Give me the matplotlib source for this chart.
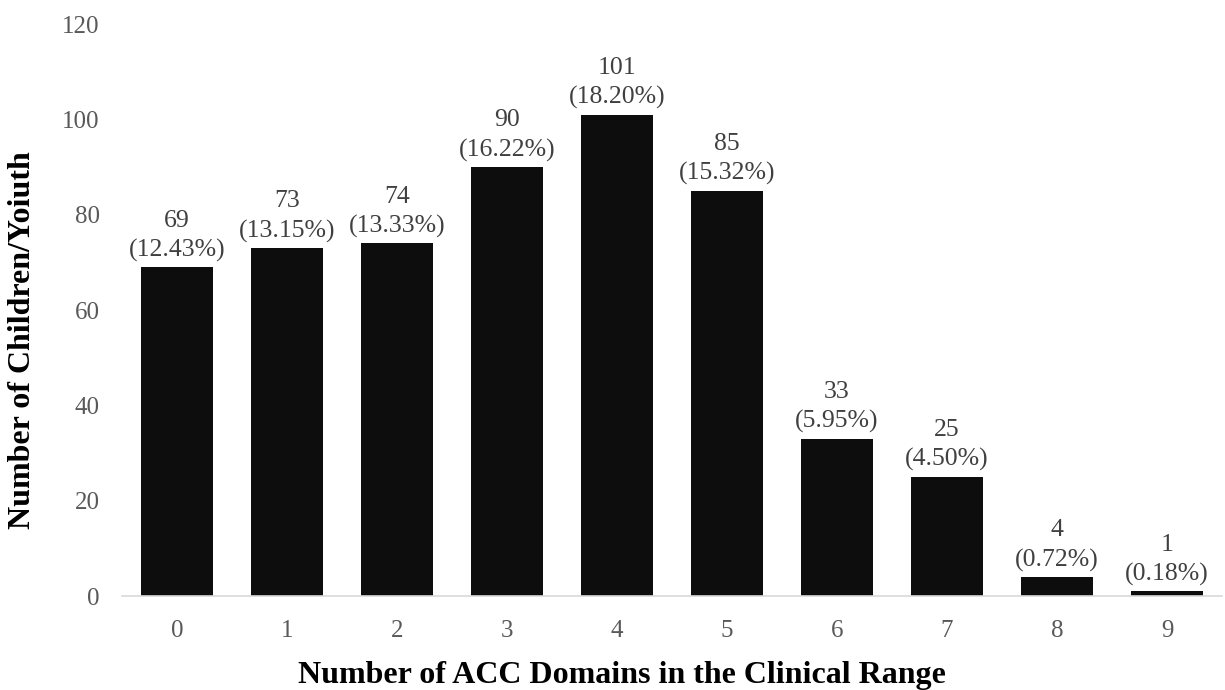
import matplotlib.pyplot as plt
import numpy as np

plt.rcParams['font.family'] = ['Liberation Serif', 'DejaVu Serif']

domains = ['0', '1', '2', '3', '4', '5', '6', '7', '8', '9']
counts = [69, 73, 74, 90, 101, 85, 33, 25, 4, 1]
percents = ['12.43%', '13.15%', '13.33%', '16.22%', '18.20%', '15.32%',
            '5.95%', '4.50%', '0.72%', '0.18%']

fig = plt.figure(figsize=(12.25, 6.9), dpi=100)
ax = fig.add_axes([0.0996, 0.136, 0.898, 0.829])

x = np.arange(len(domains))
bars = ax.bar(x, counts, width=0.655, color='#0d0d0d', zorder=2)

for rect, c, p in zip(bars, counts, percents):
    ax.annotate(f'{c}\n({p})', (rect.get_x() + rect.get_width() / 2, rect.get_height()),
                xytext=(0, 4), textcoords='offset points', ha='center', va='bottom',
                fontsize=18.5, color='#404040', linespacing=1.4)

ax.set_xlim(-0.5, len(domains) - 0.5)
ax.set_ylim(0, 120)
ax.set_yticks(range(0, 121, 20))
ax.set_xticks(x)
ax.set_xticklabels(domains)
ax.tick_params(length=0, labelsize=18, labelcolor='#595959')
ax.tick_params(axis='x', pad=17)
ax.tick_params(axis='y', pad=16)

for s in ['top', 'right', 'left']:
    ax.spines[s].set_visible(False)
ax.spines['bottom'].set_color('#d9d9d9')
ax.spines['bottom'].set_linewidth(1.2)

# axis titles placed like the original (x title sits a bit left of centre)
fig.text(0.508, 0.0101, 'Number of ACC Domains in the Clinical Range', fontsize=23,
         fontweight='bold', ha='center', va='baseline')
fig.text(0.018, 0.507, 'Number of Children/Yoiuth', fontsize=23, fontweight='bold',
         rotation=90, ha='center', va='center')

fig.savefig('out.png', dpi=100)
